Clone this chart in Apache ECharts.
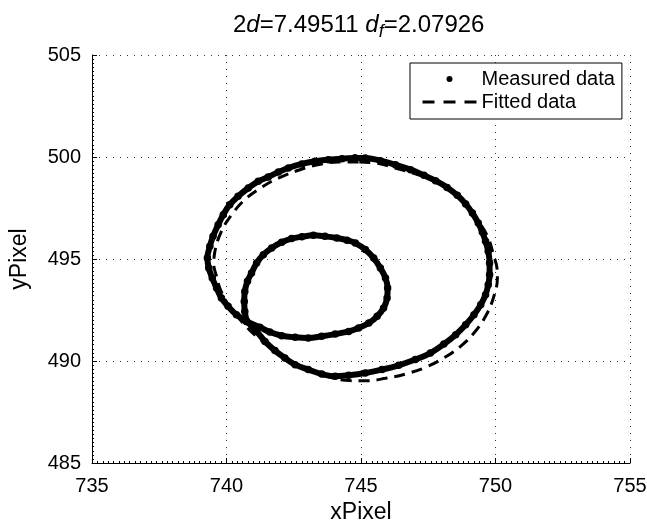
<!DOCTYPE html>
<html>
<head>
<meta charset="utf-8">
<script src="https://cdn.jsdelivr.net/npm/echarts@6/dist/echarts.min.js"></script>
<style>
  html, body { margin: 0; padding: 0; background: #fff; }
  #chart { width: 647px; height: 524px; }
</style>
</head>
<body>
<div id="chart"></div>
<script>
// Measured trajectory: outer loop [xPixel, yPixel]
const outerLoop = [
  [744.78,499.95],[744.29,499.92],[743.79,499.87],[743.29,499.79],[742.80,499.66],
  [742.30,499.46],[741.93,499.26],[741.55,499.02],[741.18,498.81],[740.81,498.48],
  [740.43,498.07],[740.12,497.66],[739.88,497.17],[739.69,496.68],[739.50,496.11],
  [739.38,495.62],[739.29,495.05],[739.34,494.56],[739.47,494.07],[739.63,493.58],
  [739.81,493.09],[740.06,492.68],[740.37,492.27],[740.75,491.94],[741.12,491.45],
  [741.43,490.96],[741.80,490.51],[742.17,490.15],[742.55,489.82],[743.04,489.58],
  [743.54,489.36],[744.04,489.25],[744.54,489.30],[745.16,489.41],[745.78,489.58],
  [746.40,489.79],[747.02,490.07],[747.58,490.39],[748.08,490.83],[748.52,491.29],
  [748.89,491.78],[749.20,492.27],[749.45,492.76],[749.63,493.25],[749.73,493.74],
  [749.78,494.23],[749.78,494.80],[749.73,495.38],[749.63,495.87],[749.51,496.32],
  [749.36,496.76],[749.14,497.25],[748.89,497.70],[748.58,498.12],[748.20,498.51],
  [747.77,498.84],[747.34,499.10],[746.84,499.38],[746.28,499.62],[745.72,499.82],
  [745.16,499.95],[744.78,499.95]
];

// Measured trajectory: inner loop [xPixel, yPixel]
const innerLoop = [
  [740.75,491.94],[740.68,492.43],[740.66,492.92],[740.68,493.41],[740.78,493.91],
  [740.93,494.31],[741.12,494.80],[741.37,495.21],[741.68,495.54],[742.05,495.82],
  [742.42,496.00],[742.80,496.09],[743.23,496.16],[743.66,496.11],[744.10,496.03],
  [744.48,495.92],[744.79,495.78],[745.16,495.46],[745.47,495.05],[745.72,494.56],
  [745.91,494.07],[745.99,493.58],[745.97,493.09],[745.84,492.60],[745.60,492.19],
  [745.29,491.86],[744.91,491.62],[744.54,491.45],[744.04,491.32],[743.54,491.21],
  [743.04,491.13],[742.55,491.16],[742.05,491.24],[741.61,491.42],[741.24,491.65],
  [740.75,491.94]
];

// Fitted ellipse [xPixel, yPixel]
const fittedCurve = [
  [744.91,499.75],[744.16,499.75],[743.54,499.66],[742.92,499.46],[741.93,498.97],
  [741.30,498.51],[740.68,497.91],[740.19,497.17],[739.81,496.36],[739.57,495.38],
  [739.53,494.70],[739.63,494.15],[739.75,493.58],[740.06,492.76],[740.56,491.94],
  [741.18,491.13],[741.93,490.39],[742.80,489.74],[743.79,489.22],[744.60,489.04],
  [745.16,489.03],[745.91,489.15],[746.65,489.36],[747.40,489.69],[748.08,490.15],
  [748.70,490.72],[749.20,491.37],[749.63,492.19],[749.92,493.09],[750.07,494.07],
  [750.05,494.60],[749.94,495.13],[749.73,496.03],[749.40,496.80],[749.00,497.62],
  [748.45,498.25],[747.85,498.75],[747.20,499.10],[746.30,499.45],[745.66,499.68],
  [744.91,499.75]
];

const xRange = { min: 735, max: 755, step: 5 };
const yRange = { min: 485, max: 505, step: 5 };

const FONT = 'Liberation Sans';

const chart = echarts.init(document.getElementById('chart'), null, { renderer: 'canvas' });

function axisCommon(range) {
  return {
    type: 'value',
    min: range.min,
    max: range.max,
    interval: range.step,
    axisLine: { show: true, lineStyle: { color: '#000', width: 1 } },
    axisTick: { show: true, inside: true, length: 5, lineStyle: { color: '#000' } },
    minorTick: { show: true, splitNumber: 25, length: 2, lineStyle: { color: '#000', width: 1 } },
    splitLine: { show: true, lineStyle: { color: '#333', width: 1, type: [1, 6] } },
    axisLabel: { color: '#000', fontSize: 20, fontFamily: FONT },
    nameLocation: 'middle',
    nameTextStyle: { color: '#000', fontSize: 23, fontFamily: FONT }
  };
}

const measuredStyle = {
  type: 'line',
  name: 'Measured data',
  smooth: 0.4,
  symbol: 'circle',
  symbolSize: 7.5,
  showAllSymbol: true,
  itemStyle: { color: '#000' },
  lineStyle: { color: '#000', width: 6 },
  z: 3
};

chart.setOption({
  animation: false,
  backgroundColor: '#fff',
  title: {
    text: '2{i|d}=7.49511 {i|d}{s|f}=2.07926',
    left: 228,
    top: 4,
    textStyle: {
      color: '#000',
      fontSize: 24,
      fontWeight: 'normal',
      fontFamily: FONT,
      rich: {
        i: { fontStyle: 'italic', fontSize: 24, fontFamily: FONT, color: '#000' },
        s: { fontStyle: 'italic', fontSize: 18, fontFamily: FONT, color: '#000', padding: [14, 0, 0, 0] }
      }
    }
  },
  grid: { left: 92, right: 17, top: 55, bottom: 61, containLabel: false, outerBoundsMode: 'none' },
  xAxis: Object.assign(axisCommon(xRange), {
    name: 'xPixel',
    nameGap: 31,
    axisLabel: { color: '#000', fontSize: 20, fontFamily: FONT, margin: 13 }
  }),
  yAxis: Object.assign(axisCommon(yRange), {
    name: 'yPixel',
    nameGap: 61,
    axisLabel: { color: '#000', fontSize: 20, fontFamily: FONT, margin: 11 }
  }),
  legend: {
    orient: 'vertical',
    left: 410,
    top: 63,
    itemWidth: 54,
    itemHeight: 6,
    itemGap: 3,
    padding: [6, 7, 7, 11],
    borderColor: '#000',
    borderWidth: 1,
    borderRadius: 0,
    backgroundColor: '#fff',
    textStyle: { color: '#000', fontSize: 20, fontFamily: FONT },
    data: [
      { name: 'Measured data', icon: 'circle' },
      { name: 'Fitted data', itemStyle: { opacity: 0 }, lineStyle: { type: [12, 9], width: 3 } }
    ],
    z: 10
  },
  series: [
    Object.assign({}, measuredStyle, { data: outerLoop }),
    Object.assign({}, measuredStyle, { data: innerLoop }),
    {
      type: 'line',
      name: 'Fitted data',
      data: fittedCurve,
      smooth: 0.4,
      symbol: 'none',
      lineStyle: { color: '#000', width: 3, type: [11, 7] },
      itemStyle: { color: '#000' },
      z: 4
    }
  ]
});
</script>
</body>
</html>
